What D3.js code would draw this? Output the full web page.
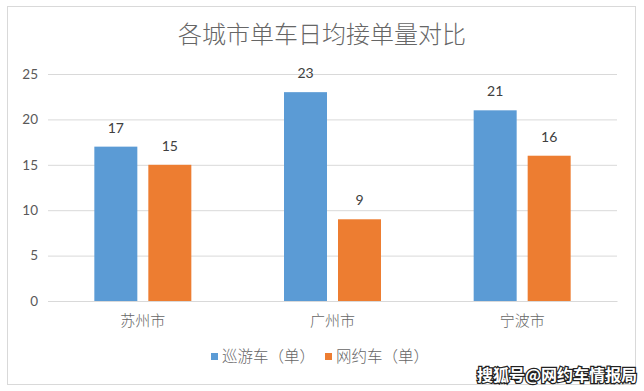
<!DOCTYPE html>
<html>
<head>
<meta charset="utf-8">
<script src="https://cdn.jsdelivr.net/npm/d3@7"></script>
<style>
  html, body { margin: 0; padding: 0; background: #ffffff; }
  svg { display: block; }
</style>
</head>
<body>
<svg id="chart" width="644" height="391"></svg>
<script>
const title = "各城市单车日均接单量对比";
const categories = ["苏州市", "广州市", "宁波市"];
const seriesNames = ["巡游车（单）", "网约车（单）"];
const cruiseValues = [17, 23, 21];
const ridehailValues = [15, 9, 16];
const yTicks = [0, 5, 10, 15, 20, 25];
const watermark = "搜狐号@网约车情报局";

const colors = ["#5B9BD5", "#ED7D31"];
const textColor = "#595959";
const cjkFont = "'Noto Sans CJK SC', sans-serif";
const numFont = "Lato, 'Open Sans', sans-serif";

const svg = d3.select("#chart");

// outer chart border
svg.append("rect")
  .attr("x", 7.5).attr("y", 6.5).attr("width", 628).attr("height", 378)
  .attr("fill", "#fff").attr("stroke", "#D9D9D9").attr("stroke-width", 1);

const plot = { left: 48, right: 617, top: 74, bottom: 301 };

const x = d3.scaleBand().domain(categories).range([plot.left, plot.right]).paddingInner(0).paddingOuter(0);
const y = d3.scaleLinear().domain([0, 25]).range([plot.bottom, plot.top]);

const barW = 43, barGap = 11;

// gridlines
const yAxis = d3.axisLeft(y).tickValues(yTicks).tickSize(-(plot.right - plot.left)).tickPadding(10).tickFormat(d3.format("d"));
const gy = svg.append("g").attr("transform", `translate(${plot.left},0)`).call(yAxis);
gy.select(".domain").remove();
gy.selectAll(".tick line").attr("stroke", "#D9D9D9").attr("stroke-width", 1);
gy.selectAll(".tick text").attr("fill", textColor).attr("font-family", numFont).attr("font-size", 13.5);

// x axis
const xAxis = d3.axisBottom(x).tickSize(0).tickPadding(14);
const gx = svg.append("g").attr("transform", `translate(0,${plot.bottom})`).call(xAxis);
gx.select(".domain").attr("stroke", "#D9D9D9");
gx.selectAll(".tick text").attr("fill", "#666666").attr("font-family", cjkFont).attr("font-weight", 300).attr("font-size", 15);

const data = categories.map((c, i) => ({ cat: c, vals: [cruiseValues[i], ridehailValues[i]] }));

const groupW = barW * 2 + barGap;
const groups = svg.append("g").selectAll("g").data(data).join("g")
  .attr("transform", d => `translate(${x(d.cat) + (x.bandwidth() - groupW) / 2},0)`);

groups.selectAll("rect").data(d => d.vals.map((v, j) => ({ v, j }))).join("rect")
  .attr("x", d => d.j * (barW + barGap))
  .attr("y", d => y(d.v))
  .attr("width", barW)
  .attr("height", d => y(0) - y(d.v))
  .attr("fill", d => colors[d.j]);

groups.selectAll("text.lbl").data(d => d.vals.map((v, j) => ({ v, j }))).join("text")
  .attr("class", "lbl")
  .attr("x", d => d.j * (barW + barGap) + barW / 2)
  .attr("y", d => y(d.v) - 14)
  .attr("text-anchor", "middle")
  .attr("fill", "#404040")
  .attr("font-family", numFont)
  .attr("font-size", 14)
  .text(d => d.v);

// title
svg.append("text")
  .attr("x", 322).attr("y", 43)
  .attr("text-anchor", "middle")
  .attr("fill", "#666666")
  .attr("font-family", cjkFont)
  .attr("font-weight", 300)
  .attr("font-size", 24)
  .text(title);

// legend
const legendX = [211, 325];
const lg = svg.append("g").selectAll("g").data(seriesNames).join("g")
  .attr("transform", (d, i) => `translate(${legendX[i]},353)`);
lg.append("rect").attr("width", 7).attr("height", 7).attr("fill", (d, i) => colors[i]);
lg.append("text").attr("x", 11).attr("y", 9)
  .attr("fill", "#666666").attr("font-family", cjkFont).attr("font-weight", 300).attr("font-size", 15.5)
  .text(d => d);

// watermark
svg.append("text")
  .attr("x", 637).attr("y", 381)
  .attr("text-anchor", "end")
  .attr("font-family", cjkFont)
  .attr("font-weight", 700)
  .attr("font-size", 16)
  .attr("fill", "#ffffff")
  .attr("stroke", "#222222")
  .attr("stroke-width", 2.5)
  .attr("paint-order", "stroke")
  .text(watermark);
</script>
</body>
</html>
